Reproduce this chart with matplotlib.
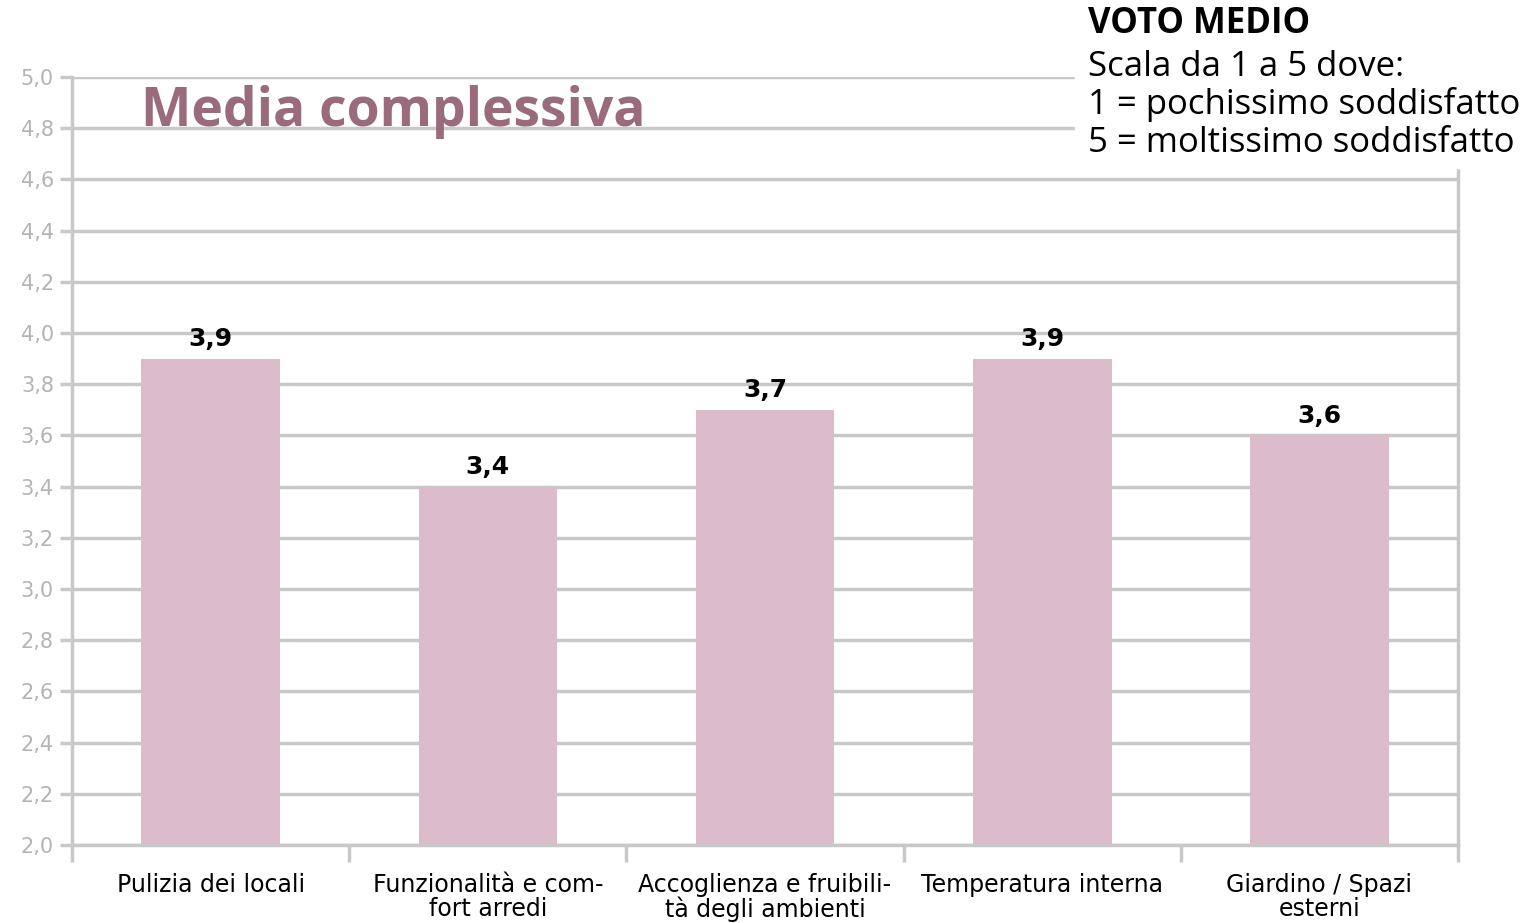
import matplotlib.pyplot as plt
import matplotlib.patches as mpatches
import numpy as np

categories = ["Pulizia dei locali", "Funzionalità e com-\nfort arredi",
              "Accoglienza e fruibili-\ntà degli ambienti", "Temperatura interna",
              "Giardino / Spazi\nesterni"]
values = [3.9, 3.4, 3.7, 3.9, 3.6]
yticks = [2.0, 2.2, 2.4, 2.6, 2.8, 3.0, 3.2, 3.4, 3.6, 3.8, 4.0, 4.2, 4.4, 4.6, 4.8, 5.0]

grid_col = '#c8c8c8'
bar_col = '#dcbccb'

fig = plt.figure(figsize=(15.29, 9.23), dpi=100)
ax = fig.add_axes([0.0471, 0.0845, 0.9065, 0.8321])

x = np.arange(len(categories))
ax.bar(x, values, width=0.5, color=bar_col, zorder=2)
for xi, v in zip(x, values):
    ax.text(xi, v + 0.03, f"{v:.1f}".replace('.', ','), ha='center', va='bottom',
            fontsize=18, fontweight='bold')

ax.set_xlim(-0.5, len(categories) - 0.5)
ax.set_ylim(2.0, 5.0)
ax.set_yticks(yticks)
ax.set_yticklabels([f"{t:.1f}".replace('.', ',') for t in yticks],
                   color='#b4b4b4', fontsize=15)
ax.yaxis.grid(True, color=grid_col, lw=2.5, zorder=0)
ax.set_axisbelow(True)

ax.set_xticks(x)
ax.set_xticklabels(categories, fontsize=17, linespacing=1.0)
ax.tick_params(axis='x', length=0, pad=20)
ax.set_xticks(np.arange(-0.5, len(categories), 1.0), minor=True)
ax.tick_params(axis='x', which='minor', length=12, width=2.5, color=grid_col)
ax.tick_params(axis='y', length=9, width=2.5, color=grid_col, pad=4)

for s in ['left', 'bottom', 'right']:
    ax.spines[s].set_color(grid_col)
    ax.spines[s].set_linewidth(2.5)
ax.spines['top'].set_visible(False)

ax.text(0.05, 0.955, "Media complessiva", transform=ax.transAxes,
        fontsize=38.5, fontweight='bold', color='#9a6b7c', family='Open Sans',
        va='center', ha='left')

# white box top right covering the gridlines
fig.patches.append(mpatches.Rectangle((1075 / 1529, 1 - 168 / 923), 1, 1,
                                      transform=fig.transFigure, color='white',
                                      zorder=5))

fig.text(1088 / 1529, 1 - 24 / 923, "VOTO MEDIO", fontsize=25, fontweight='bold',
         family='Open Sans', va='center', ha='left', zorder=6)
legend_lines = ["Scala da 1 a 5 dove:", "1 = pochissimo soddisfatto",
                "5 = moltissimo soddisfatto"]
for i, t in enumerate(legend_lines):
    fig.text(1088 / 1529, 1 - (67 + 38 * i) / 923, t, fontsize=25,
             family='Open Sans', va='center', ha='left', zorder=6)

fig.savefig('out.png', dpi=100)
